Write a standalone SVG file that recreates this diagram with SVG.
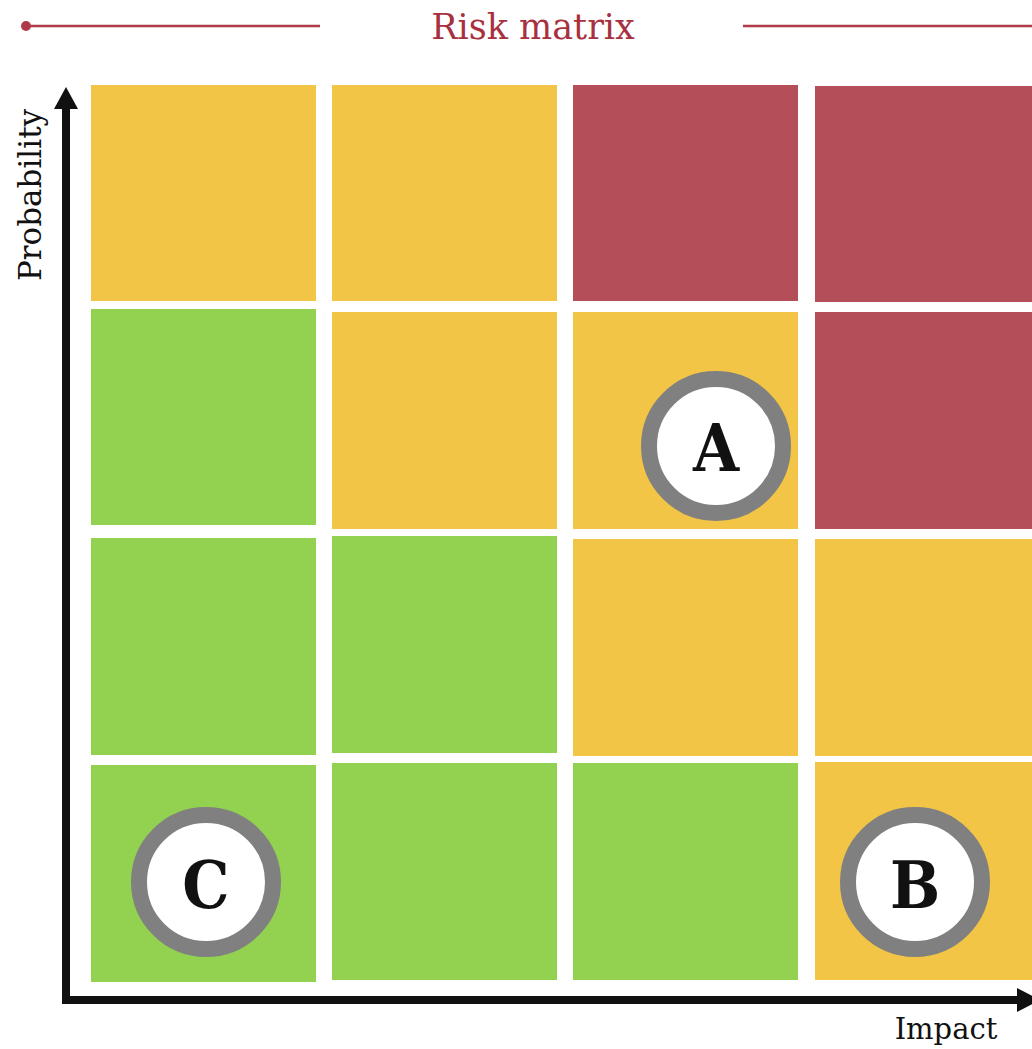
<svg xmlns="http://www.w3.org/2000/svg" width="1032" height="1049" viewBox="0 0 1032 1049">
  <style>
    .hi { fill: #B44F5A; }
    .mid { fill: #F2C546; }
    .lo { fill: #93D150; }
    .title { font-family: "DejaVu Serif", "Liberation Serif", serif; font-size: 35px; fill: #A8313F; }
    .axis-label { font-family: "DejaVu Serif", "Liberation Serif", serif; fill: #111111; }
    .ring { fill: #FFFFFF; stroke: #808080; stroke-width: 16; }
    .marker-text { font-family: "DejaVu Serif", "Liberation Serif", serif; font-stretch: condensed; font-weight: bold; font-size: 66px; fill: #111111; text-anchor: middle; }
    .rule { stroke: #B03A48; stroke-width: 2.5; }
    .axis { stroke: #111111; stroke-width: 8; fill: none; }
  </style>
  <rect width="1032" height="1049" fill="#FFFFFF"/>

  <!-- header -->
  <g id="header">
    <circle cx="26" cy="26" r="5" fill="#B03A48"/>
    <line class="rule" x1="26" y1="26" x2="320" y2="26"/>
    <line class="rule" x1="743" y1="26" x2="1032" y2="26"/>
    <text class="title" x="533" y="39" text-anchor="middle">Risk matrix</text>
  </g>

  <!-- grid cells: rows top to bottom (probability high to low), columns left to right (impact low to high) -->
  <g id="cell-r1c1"><rect class="mid" x="91" y="85" width="225" height="216"/></g>
  <g id="cell-r1c2"><rect class="mid" x="332" y="85" width="225" height="216"/></g>
  <g id="cell-r1c3"><rect class="hi" x="573" y="85" width="225" height="216"/></g>
  <g id="cell-r1c4"><rect class="hi" x="815" y="86" width="217" height="216"/></g>

  <g id="cell-r2c1"><rect class="lo" x="91" y="309" width="225" height="216"/></g>
  <g id="cell-r2c2"><rect class="mid" x="332" y="312" width="225" height="217"/></g>
  <g id="cell-r2c3"><rect class="mid" x="573" y="312" width="225" height="217"/></g>
  <g id="cell-r2c4"><rect class="hi" x="815" y="312" width="217" height="217"/></g>

  <g id="cell-r3c1"><rect class="lo" x="91" y="538" width="225" height="217"/></g>
  <g id="cell-r3c2"><rect class="lo" x="332" y="536" width="225" height="217"/></g>
  <g id="cell-r3c3"><rect class="mid" x="573" y="539" width="225" height="217"/></g>
  <g id="cell-r3c4"><rect class="mid" x="815" y="539" width="217" height="217"/></g>

  <g id="cell-r4c1"><rect class="lo" x="91" y="765" width="225" height="217"/></g>
  <g id="cell-r4c2"><rect class="lo" x="332" y="763" width="225" height="217"/></g>
  <g id="cell-r4c3"><rect class="lo" x="573" y="763" width="225" height="217"/></g>
  <g id="cell-r4c4"><rect class="mid" x="815" y="762" width="217" height="218"/></g>

  <!-- axes -->
  <g id="connectors">
    <polyline class="axis" points="66,105 66,1000 1018,1000"/>
    <polygon points="66,87 54,109 78,109" fill="#111111"/>
    <polygon points="1017,988 1040,1000 1017,1012" fill="#111111"/>
  </g>

  <text class="axis-label" font-size="31" transform="translate(41,195) rotate(-90)" text-anchor="middle">Probability</text>
  <text class="axis-label" font-size="29" x="946" y="1039" text-anchor="middle">Impact</text>

  <!-- risk markers -->
  <g id="risk-A">
    <circle class="ring" cx="716" cy="446" r="67"/>
    <text class="marker-text" x="716" y="471">A</text>
  </g>
  <g id="risk-B">
    <circle class="ring" cx="915" cy="882" r="67"/>
    <text class="marker-text" x="915" y="908">B</text>
  </g>
  <g id="risk-C">
    <circle class="ring" cx="206" cy="882" r="67"/>
    <text class="marker-text" x="206" y="908">C</text>
  </g>
</svg>
